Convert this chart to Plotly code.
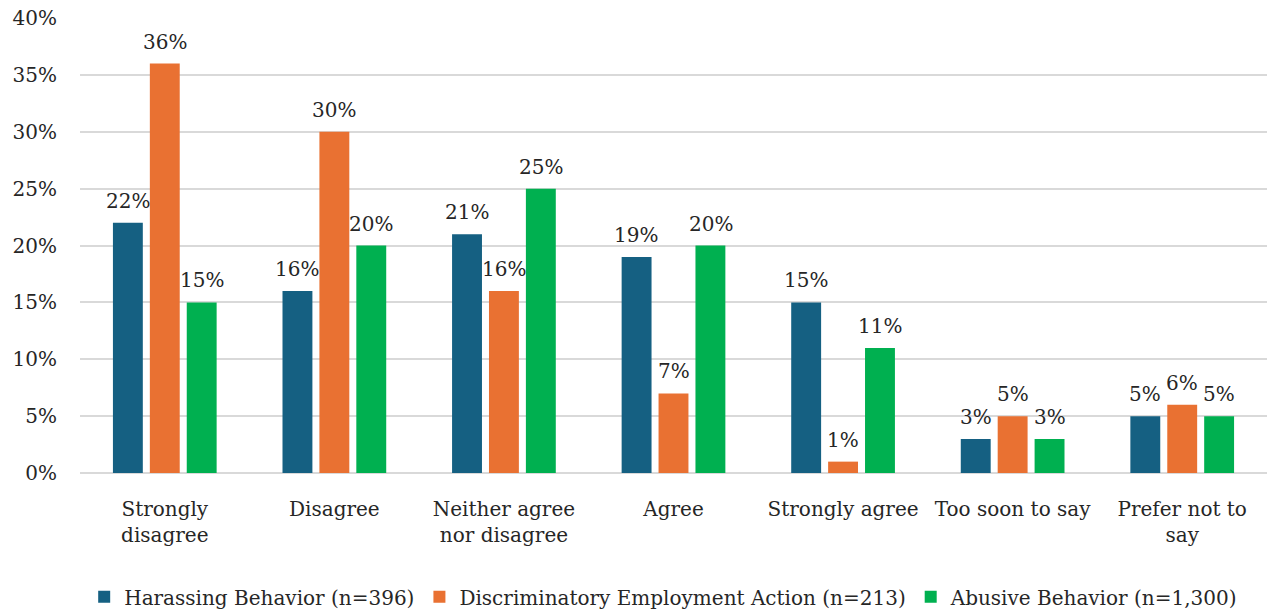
import plotly.graph_objects as go

categories = ["Strongly<br>disagree", "Disagree", "Neither agree<br>nor disagree", "Agree",
              "Strongly agree", "Too soon to say", "Prefer not to<br>say"]
harassing = [22, 16, 21, 19, 15, 3, 5]
discriminatory = [36, 30, 16, 7, 1, 5, 6]
abusive = [15, 20, 25, 20, 11, 3, 5]
series_names = ["Harassing Behavior (n=396)", "Discriminatory Employment Action (n=213)",
                "Abusive Behavior (n=1,300)"]
colors = ["#156082", "#E97132", "#00B050"]

FONT = "DejaVu Serif"
FS = 20
TXT = "#262626"
fig = go.Figure()
all_vals = [harassing, discriminatory, abusive]
for name, vals, col in zip(series_names, all_vals, colors):
    fig.add_trace(go.Bar(
        x=categories, y=[v / 100 for v in vals], name=name,
        marker=dict(color=col, line=dict(width=0)),
    ))

# data labels above bars
slot_px = 170 * (1 - 0.347) / 3
for i, vals in enumerate(all_vals):
    for cat, v in zip(categories, vals):
        fig.add_annotation(x=cat, y=v / 100, text=f"{v}%", showarrow=False,
                           xshift=(i - 1) * slot_px, yanchor="bottom", yshift=8,
                           font=dict(size=FS, family=FONT, color=TXT))

fig.update_layout(
    width=1269, height=614,
    margin=dict(l=80, r=2, t=18, b=141, autoexpand=False),
    plot_bgcolor="white", paper_bgcolor="white",
    barmode="group", bargap=0.347, bargroupgap=0.19,
    font=dict(family=FONT, size=FS, color=TXT),
    yaxis=dict(range=[0, 0.40], dtick=0.05, tickformat=".0%", showgrid=True,
               gridcolor="#D9D9D9", gridwidth=1.5, zeroline=True, zerolinecolor="#D9D9D9",
               zerolinewidth=1.5, ticks="", ticklabelstandoff=22, automargin=False,
               tickfont=dict(size=FS, family=FONT, color=TXT)),
    xaxis=dict(showgrid=False, ticks="", ticklabelstandoff=22, automargin=False,
               tickfont=dict(size=FS, family=FONT, color=TXT)),
    legend=dict(orientation="h", x=0.523, xanchor="center", xref="container",
                y=0.028, yanchor="middle", yref="container",
                font=dict(size=FS, family=FONT, color=TXT), traceorder="normal",
                itemwidth=30),
    showlegend=True,
)
fig.write_html("out.html", config={"displayModeBar": False},
               post_script="document.body.style.margin='0';")
